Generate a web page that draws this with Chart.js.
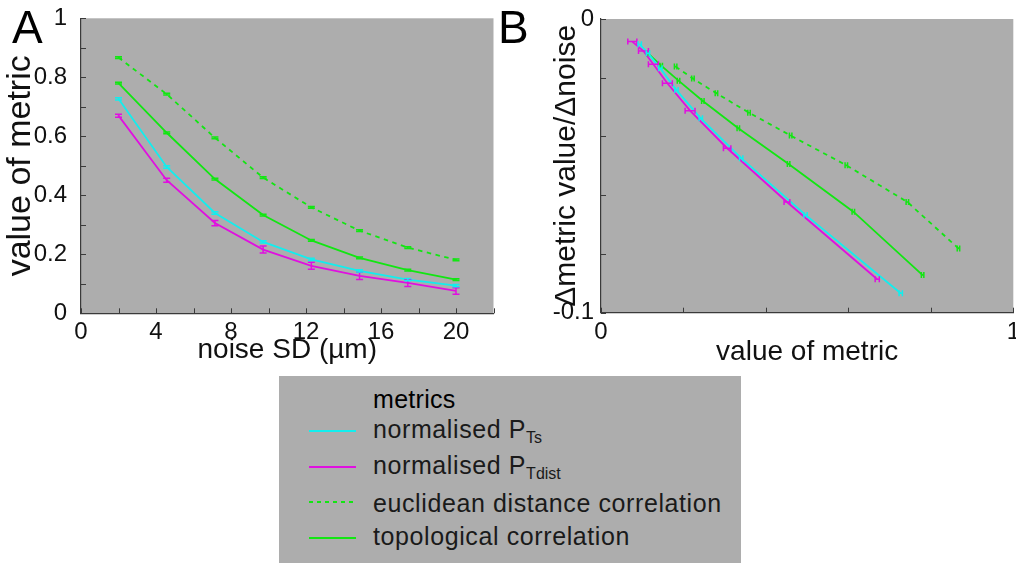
<!DOCTYPE html>
<html>
<head>
<meta charset="utf-8">
<script src="https://cdn.jsdelivr.net/npm/chart.js@4/dist/chart.umd.min.js"></script>
<style>
html,body{margin:0;padding:0;background:#fff;}
#wrap{position:relative;width:1016px;height:563px;overflow:hidden;font-family:"Liberation Sans",Arial,sans-serif;color:#111;}
#cA{position:absolute;left:0;top:0;}
#cB{position:absolute;left:508px;top:0;}
.panel{position:absolute;font-size:46px;line-height:46px;color:#000;}
#legend{position:absolute;left:279px;top:376px;width:462px;height:187px;background:#adadad;}
.lt{position:absolute;left:94px;font-size:25px;line-height:25px;white-space:nowrap;color:#1a1a1a;letter-spacing:0.6px;}
.lt sub{font-size:16px;vertical-align:-5px;line-height:0;letter-spacing:0;}
.ls{position:absolute;left:30px;width:47px;height:2px;}
</style>
</head>
<body>
<div id="wrap">
  <canvas id="cA" width="508" height="375"></canvas>
  <canvas id="cB" width="508" height="375"></canvas>
  <div class="panel" style="left:12px;top:4px;">A</div>
  <div class="panel" style="left:498px;top:4px;">B</div>
  <div id="legend"></div>
</div>
<script>
// ---------------- data ----------------
const seriesNames = ['normalised P|Ts', 'normalised P|Tdist', 'euclidean distance correlation', 'topological correlation'];
const legendTitle = 'metrics';

// noise levels (x of panel A)
const noiseSD = [2, 4.571, 7.143, 9.714, 12.286, 14.857, 17.429, 20];

// value of metric (y of panel A, x of panel B)
const ptsVal    = [0.727, 0.496, 0.340, 0.242, 0.183, 0.144, 0.114, 0.094];
const ptdistVal = [0.670, 0.451, 0.306, 0.216, 0.161, 0.127, 0.103, 0.076];
const eucVal    = [0.867, 0.743, 0.595, 0.460, 0.359, 0.280, 0.223, 0.181];
const topoVal   = [0.780, 0.612, 0.455, 0.333, 0.247, 0.188, 0.146, 0.114];

// standard error of metric value
const ptsErr    = [0.004, 0.004, 0.004, 0.004, 0.004, 0.004, 0.004, 0.004];
const ptdistErr = [0.005, 0.007, 0.009, 0.012, 0.012, 0.012, 0.012, 0.011];
const eucErr    = [0.003, 0.003, 0.003, 0.003, 0.003, 0.003, 0.003, 0.003];
const topoErr   = [0.003, 0.003, 0.003, 0.003, 0.003, 0.003, 0.003, 0.003];

// Δmetric value / Δnoise (y of panel B)
const ptsSlope    = [-0.0934, -0.0667, -0.0474, -0.0338, -0.0242, -0.0168, -0.0117, -0.0086];
const ptdistSlope = [-0.0886, -0.0623, -0.0440, -0.0312, -0.0219, -0.0154, -0.0109, -0.0077];
const eucSlope    = [-0.0781, -0.0623, -0.0498, -0.0397, -0.0319, -0.0253, -0.0203, -0.0162];
const topoSlope   = [-0.0872, -0.0656, -0.0494, -0.0372, -0.0279, -0.0210, -0.0159, -0.0117];

// ticks
const xTickLabelsA = [0, 4, 8, 12, 16, 20];
const yTickLabelsA = [0, 0.2, 0.4, 0.6, 0.8, 1];
const xTickLabelsB = [0, 1];
const yTickLabelsB = [0, -0.1];
const xTitleA = 'noise SD (µm)';
const yTitleA = 'value of metric';
const xTitleB = 'value of metric';
const yTitleB = 'Δmetric value/Δnoise';

// ---------------- styles ----------------
const FONT = '"Liberation Sans", Arial, sans-serif';
const C_CYAN = '#12eeee', C_MAG = '#e010e0', C_GREEN = '#12e612';
const BG = '#adadad', AX = '#3a3a3a', TXT = '#111';
const DASH = [4.5, 4.5];

const colors = [C_CYAN, C_MAG, C_GREEN, C_GREEN];
const dashes = [[], [], DASH, []];

function inList(v, list){ return list.some(t => Math.abs(t - v) < 1e-9); }

const bgPlugin = {
  id: 'bgPlugin',
  beforeDraw(chart){
    const {ctx, chartArea:a} = chart;
    ctx.save(); ctx.fillStyle = BG;
    ctx.fillRect(a.left, a.top, a.right - a.left, a.bottom - a.top);
    ctx.restore();
  }
};
const tickPlugin = {
  id: 'tickPlugin',
  beforeDatasetsDraw(chart){
    const {ctx, chartArea:a, scales:{x, y}} = chart;
    ctx.save(); ctx.strokeStyle = AX; ctx.lineWidth = 1;
    x.ticks.forEach(t => {
      const px = Math.round(x.getPixelForValue(t.value)) + 0.5;
      ctx.beginPath(); ctx.moveTo(px, a.bottom); ctx.lineTo(px, a.bottom - 5); ctx.stroke();
    });
    y.ticks.forEach(t => {
      const py = Math.round(y.getPixelForValue(t.value)) + 0.5;
      ctx.beginPath(); ctx.moveTo(a.left, py); ctx.lineTo(a.left + 5, py); ctx.stroke();
    });
    ctx.restore();
  }
};
const errPlugin = {
  id: 'errBars',
  afterDatasetsDraw(chart, args, opts){
    const {ctx, scales:{x, y}} = chart;
    const dss = chart.data.datasets;
    for (let i = dss.length - 1; i >= 0; i--){
      const ds = dss[i];
      if (!ds.errors) continue;
      ctx.save(); ctx.strokeStyle = ds.borderColor; ctx.lineWidth = 1.5; ctx.setLineDash([]);
      ds.data.forEach((p, j) => {
        const e = ds.errors[j];
        ctx.beginPath();
        if (opts.dir === 'y'){
          const px = x.getPixelForValue(p.x), y1 = y.getPixelForValue(p.y - e), y2 = y.getPixelForValue(p.y + e);
          ctx.moveTo(px, y1); ctx.lineTo(px, y2);
          ctx.moveTo(px - 3.5, y1); ctx.lineTo(px + 3.5, y1);
          ctx.moveTo(px - 3.5, y2); ctx.lineTo(px + 3.5, y2);
        } else {
          const py = y.getPixelForValue(p.y), x1 = x.getPixelForValue(p.x - e), x2 = x.getPixelForValue(p.x + e);
          ctx.moveTo(x1, py); ctx.lineTo(x2, py);
          ctx.moveTo(x1, py - 3); ctx.lineTo(x1, py + 3);
          ctx.moveTo(x2, py - 3); ctx.lineTo(x2, py + 3);
        }
        ctx.stroke();
      });
      ctx.restore();
    }
  }
};

function mkDatasets(xs, ys, errs){
  return seriesNames.map((n, i) => ({
    label: n.replace('|', ''),
    data: xs[i].map((xv, j) => ({x: xv, y: ys[i][j]})),
    errors: errs[i],
    borderColor: colors[i],
    borderWidth: 1.8,
    borderDash: dashes[i],
    pointRadius: 0,
    fill: false,
    tension: 0
  }));
}

function axis(opts){
  return {
    type: 'linear', min: opts.min, max: opts.max,
    afterFit(s){
      if (opts.size.w !== undefined) s.width = opts.size.w;
      if (opts.size.h !== undefined) s.height = opts.size.h;
      s.paddingLeft = 0; s.paddingRight = 0; s.paddingTop = 0; s.paddingBottom = 0;
    },
    grid: {display: false},
    border: {display: true, color: AX, width: 1.2},
    ticks: {
      stepSize: opts.step, autoSkip: false, maxRotation: 0, includeBounds: true,
      padding: opts.tpad, color: TXT, font: {family: FONT, size: 24},
      callback: v => inList(v, opts.labels) ? String(Math.round(v * 1000) / 1000) : ''
    },
    title: {display: true, text: opts.title, color: TXT, font: {family: FONT, size: opts.tsize, lineHeight: 1}, padding: opts.titlePad}
  };
}

// ---------- Panel A ----------
new Chart(document.getElementById('cA'), {
  type: 'line',
  data: {datasets: mkDatasets([noiseSD, noiseSD, noiseSD, noiseSD], [ptsVal, ptdistVal, eucVal, topoVal], [ptsErr, ptdistErr, eucErr, topoErr])},
  options: {
    responsive: false, animation: false, events: [],
    layout: {padding: {left: 0, right: 14.5, top: 18.3, bottom: 0}},
    plugins: {legend: {display: false}, tooltip: {enabled: false}, errBars: {dir: 'y'}},
    scales: {
      x: axis({min: 0, max: 22, step: 2, labels: xTickLabelsA, size: {h: 61.7}, tpad: -3, title: xTitleA, tsize: 28, titlePad: {top: 0, bottom: 11}}),
      y: axis({min: 0, max: 1, step: 0.1, labels: yTickLabelsA, size: {w: 81}, tpad: 6, title: yTitleA, tsize: 34, titlePad: {top: 4, bottom: 0}})
    }
  },
  plugins: [bgPlugin, tickPlugin, errPlugin]
});

// ---------- Panel B ----------
new Chart(document.getElementById('cB'), {
  type: 'line',
  data: {datasets: mkDatasets([ptsVal, ptdistVal, eucVal, topoVal], [ptsSlope, ptdistSlope, eucSlope, topoSlope], [ptsErr, ptdistErr, eucErr, topoErr])},
  options: {
    responsive: false, animation: false, events: [],
    layout: {padding: {left: 0, right: 2.7, top: 19, bottom: 0}},
    plugins: {legend: {display: false}, tooltip: {enabled: false}, errBars: {dir: 'x'}},
    scales: {
      x: axis({min: 0, max: 1, step: 0.2, labels: xTickLabelsB, size: {h: 62.3}, tpad: -3, title: xTitleB, tsize: 28, titlePad: {top: 0, bottom: 9}}),
      y: axis({min: -0.1, max: 0, step: 0.02, labels: yTickLabelsB, size: {w: 93}, tpad: -1, title: yTitleB, tsize: 30, titlePad: {top: 44, bottom: 0}})
    }
  },
  plugins: [bgPlugin, tickPlugin, errPlugin]
});

// ---------- Legend (HTML text) ----------
(function(){
  const lg = document.getElementById('legend');
  const tops = [41, 77, 114.5, 148];
  const lineTops = [54.3, 90.3, 125.3, 161.3];
  const t = document.createElement('div');
  t.className = 'lt'; t.style.top = '11px'; t.style.color = '#000'; t.style.letterSpacing = '0.3px'; t.textContent = legendTitle;
  lg.appendChild(t);
  seriesNames.forEach((n, i) => {
    const d = document.createElement('div');
    d.className = 'lt'; d.style.top = tops[i] + 'px';
    const parts = n.split('|');
    d.appendChild(document.createTextNode(parts[0]));
    if (parts[1]){ const s = document.createElement('sub'); s.textContent = parts[1]; d.appendChild(s); }
    lg.appendChild(d);
    const l = document.createElement('div');
    l.className = 'ls'; l.style.top = lineTops[i] + 'px';
    l.style.background = dashes[i].length ? `repeating-linear-gradient(to right, ${colors[i]} 0 4px, transparent 4px 8px)` : colors[i];
    lg.appendChild(l);
  });
})();
</script>
</body>
</html>
